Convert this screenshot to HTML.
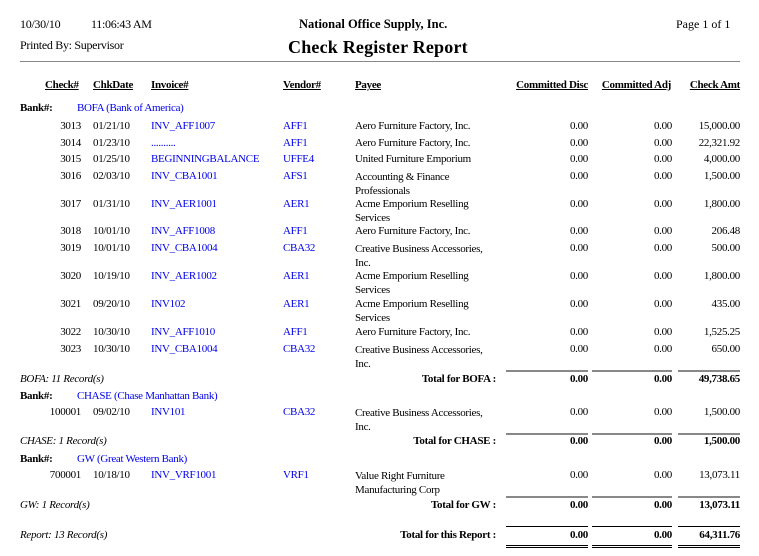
<!DOCTYPE html>
<html><head><meta charset="utf-8"><style>
body{margin:0;width:759px;height:556px;background:#fff;position:relative;overflow:hidden;font-family:"Liberation Serif",serif;font-size:11px;color:#000;letter-spacing:-0.3px}
div{position:absolute;white-space:nowrap;line-height:14px}
.b{color:#0000ee}
.r{text-align:right}
.h{font-weight:bold;text-decoration:underline}
.bd{font-weight:bold}
.i{font-style:italic}
.ln{height:2px;background:#888}
.lk{height:1px;background:#000}
</style></head><body>
<div style="left:20px;top:17px;font-size:12px">10/30/10</div>
<div style="left:91px;top:17px;font-size:12px">11:06:43 AM</div>
<div style="left:299px;top:17px;font-size:12.5px;letter-spacing:0" class="bd">National Office Supply, Inc.</div>
<div style="left:676px;top:17px;font-size:12px;letter-spacing:0">Page 1 of 1</div>
<div style="left:20px;top:38px;font-size:12px">Printed By: Supervisor</div>
<div style="left:288px;top:37px;font-size:18px;line-height:21px;letter-spacing:0.2px" class="bd">Check Register Report</div>
<div style="left:20px;top:61px;width:720px;height:1px;background:#888"></div>

<div class="h" style="left:45px;top:78px">Check#</div>
<div class="h" style="left:93px;top:78px">ChkDate</div>
<div class="h" style="left:151px;top:78px">Invoice#</div>
<div class="h" style="left:283px;top:78px">Vendor#</div>
<div class="h" style="left:355px;top:78px">Payee</div>
<div class="h r" style="right:171px;top:78px">Committed Disc</div>
<div class="h r" style="right:88px;top:78px">Committed Adj</div>
<div class="h r" style="right:19px;top:78px">Check Amt</div>

<div class="bd" style="left:20px;top:101px">Bank#:</div>
<div class="b" style="left:77px;top:101px">BOFA (Bank of America)</div>

<div class="r" style="right:678px;top:119px">3013</div><div style="left:93px;top:119px">01/21/10</div><div class="b" style="left:151px;top:119px">INV_AFF1007</div><div class="b" style="left:283px;top:119px">AFF1</div><div style="left:355px;top:119px">Aero Furniture Factory, Inc.</div><div class="r" style="right:171px;top:119px">0.00</div><div class="r" style="right:87px;top:119px">0.00</div><div class="r" style="right:19px;top:119px">15,000.00</div>
<div class="r" style="right:678px;top:136px">3014</div><div style="left:93px;top:136px">01/23/10</div><div class="b" style="left:151px;top:136px">..........</div><div class="b" style="left:283px;top:136px">AFF1</div><div style="left:355px;top:136px">Aero Furniture Factory, Inc.</div><div class="r" style="right:171px;top:136px">0.00</div><div class="r" style="right:87px;top:136px">0.00</div><div class="r" style="right:19px;top:136px">22,321.92</div>
<div class="r" style="right:678px;top:152px">3015</div><div style="left:93px;top:152px">01/25/10</div><div class="b" style="left:151px;top:152px">BEGINNINGBALANCE</div><div class="b" style="left:283px;top:152px">UFFE4</div><div style="left:355px;top:152px">United Furniture Emporium</div><div class="r" style="right:171px;top:152px">0.00</div><div class="r" style="right:87px;top:152px">0.00</div><div class="r" style="right:19px;top:152px">4,000.00</div>
<div class="r" style="right:678px;top:169px">3016</div><div style="left:93px;top:169px">02/03/10</div><div class="b" style="left:151px;top:169px">INV_CBA1001</div><div class="b" style="left:283px;top:169px">AFS1</div><div style="left:355px;top:170px">Accounting &amp; Finance<br>Professionals</div><div class="r" style="right:171px;top:169px">0.00</div><div class="r" style="right:87px;top:169px">0.00</div><div class="r" style="right:19px;top:169px">1,500.00</div>
<div class="r" style="right:678px;top:197px">3017</div><div style="left:93px;top:197px">01/31/10</div><div class="b" style="left:151px;top:197px">INV_AER1001</div><div class="b" style="left:283px;top:197px">AER1</div><div style="left:355px;top:197px">Acme Emporium Reselling<br>Services</div><div class="r" style="right:171px;top:197px">0.00</div><div class="r" style="right:87px;top:197px">0.00</div><div class="r" style="right:19px;top:197px">1,800.00</div>
<div class="r" style="right:678px;top:224px">3018</div><div style="left:93px;top:224px">10/01/10</div><div class="b" style="left:151px;top:224px">INV_AFF1008</div><div class="b" style="left:283px;top:224px">AFF1</div><div style="left:355px;top:224px">Aero Furniture Factory, Inc.</div><div class="r" style="right:171px;top:224px">0.00</div><div class="r" style="right:87px;top:224px">0.00</div><div class="r" style="right:19px;top:224px">206.48</div>
<div class="r" style="right:678px;top:241px">3019</div><div style="left:93px;top:241px">10/01/10</div><div class="b" style="left:151px;top:241px">INV_CBA1004</div><div class="b" style="left:283px;top:241px">CBA32</div><div style="left:355px;top:242px">Creative Business Accessories,<br>Inc.</div><div class="r" style="right:171px;top:241px">0.00</div><div class="r" style="right:87px;top:241px">0.00</div><div class="r" style="right:19px;top:241px">500.00</div>
<div class="r" style="right:678px;top:269px">3020</div><div style="left:93px;top:269px">10/19/10</div><div class="b" style="left:151px;top:269px">INV_AER1002</div><div class="b" style="left:283px;top:269px">AER1</div><div style="left:355px;top:269px">Acme Emporium Reselling<br>Services</div><div class="r" style="right:171px;top:269px">0.00</div><div class="r" style="right:87px;top:269px">0.00</div><div class="r" style="right:19px;top:269px">1,800.00</div>
<div class="r" style="right:678px;top:297px">3021</div><div style="left:93px;top:297px">09/20/10</div><div class="b" style="left:151px;top:297px">INV102</div><div class="b" style="left:283px;top:297px">AER1</div><div style="left:355px;top:297px">Acme Emporium Reselling<br>Services</div><div class="r" style="right:171px;top:297px">0.00</div><div class="r" style="right:87px;top:297px">0.00</div><div class="r" style="right:19px;top:297px">435.00</div>
<div class="r" style="right:678px;top:325px">3022</div><div style="left:93px;top:325px">10/30/10</div><div class="b" style="left:151px;top:325px">INV_AFF1010</div><div class="b" style="left:283px;top:325px">AFF1</div><div style="left:355px;top:325px">Aero Furniture Factory, Inc.</div><div class="r" style="right:171px;top:325px">0.00</div><div class="r" style="right:87px;top:325px">0.00</div><div class="r" style="right:19px;top:325px">1,525.25</div>
<div class="r" style="right:678px;top:342px">3023</div><div style="left:93px;top:342px">10/30/10</div><div class="b" style="left:151px;top:342px">INV_CBA1004</div><div class="b" style="left:283px;top:342px">CBA32</div><div style="left:355px;top:343px">Creative Business Accessories,<br>Inc.</div><div class="r" style="right:171px;top:342px">0.00</div><div class="r" style="right:87px;top:342px">0.00</div><div class="r" style="right:19px;top:342px">650.00</div>

<div class="ln" style="left:506px;top:370px;width:82px"></div><div class="ln" style="left:592px;top:370px;width:80px"></div><div class="ln" style="left:678px;top:370px;width:62px"></div>
<div class="i" style="left:20px;top:372px">BOFA: 11 Record(s)</div>
<div class="bd r" style="right:263px;top:372px">Total for BOFA :</div>
<div class="bd r" style="right:171px;top:372px">0.00</div><div class="bd r" style="right:87px;top:372px">0.00</div><div class="bd r" style="right:19px;top:372px">49,738.65</div>

<div class="bd" style="left:20px;top:389px">Bank#:</div>
<div class="b" style="left:77px;top:389px">CHASE (Chase Manhattan Bank)</div>
<div class="r" style="right:678px;top:405px">100001</div><div style="left:93px;top:405px">09/02/10</div><div class="b" style="left:151px;top:405px">INV101</div><div class="b" style="left:283px;top:405px">CBA32</div><div style="left:355px;top:406px">Creative Business Accessories,<br>Inc.</div><div class="r" style="right:171px;top:405px">0.00</div><div class="r" style="right:87px;top:405px">0.00</div><div class="r" style="right:19px;top:405px">1,500.00</div>
<div class="ln" style="left:506px;top:433px;width:82px"></div><div class="ln" style="left:592px;top:433px;width:80px"></div><div class="ln" style="left:678px;top:433px;width:62px"></div>
<div class="i" style="left:20px;top:434px">CHASE: 1 Record(s)</div>
<div class="bd r" style="right:263px;top:434px">Total for CHASE :</div>
<div class="bd r" style="right:171px;top:434px">0.00</div><div class="bd r" style="right:87px;top:434px">0.00</div><div class="bd r" style="right:19px;top:434px">1,500.00</div>

<div class="bd" style="left:20px;top:452px">Bank#:</div>
<div class="b" style="left:77px;top:452px">GW (Great Western Bank)</div>
<div class="r" style="right:678px;top:468px">700001</div><div style="left:93px;top:468px">10/18/10</div><div class="b" style="left:151px;top:468px">INV_VRF1001</div><div class="b" style="left:283px;top:468px">VRF1</div><div style="left:355px;top:469px">Value Right Furniture<br>Manufacturing Corp</div><div class="r" style="right:171px;top:468px">0.00</div><div class="r" style="right:87px;top:468px">0.00</div><div class="r" style="right:19px;top:468px">13,073.11</div>
<div class="ln" style="left:506px;top:496px;width:82px"></div><div class="ln" style="left:592px;top:496px;width:80px"></div><div class="ln" style="left:678px;top:496px;width:62px"></div>
<div class="i" style="left:20px;top:498px">GW: 1 Record(s)</div>
<div class="bd r" style="right:263px;top:498px">Total for GW :</div>
<div class="bd r" style="right:171px;top:498px">0.00</div><div class="bd r" style="right:87px;top:498px">0.00</div><div class="bd r" style="right:19px;top:498px">13,073.11</div>

<div class="lk" style="left:506px;top:526px;width:82px"></div><div class="lk" style="left:592px;top:526px;width:80px"></div><div class="lk" style="left:678px;top:526px;width:62px"></div>
<div class="i" style="left:20px;top:528px">Report: 13 Record(s)</div>
<div class="bd r" style="right:263px;top:528px">Total for this Report :</div>
<div class="bd r" style="right:171px;top:528px">0.00</div><div class="bd r" style="right:87px;top:528px">0.00</div><div class="bd r" style="right:19px;top:528px">64,311.76</div>
<div style="left:506px;top:545px;width:82px;height:1px;border-top:1px solid #000;border-bottom:1px solid #000"></div>
<div style="left:592px;top:545px;width:80px;height:1px;border-top:1px solid #000;border-bottom:1px solid #000"></div>
<div style="left:678px;top:545px;width:62px;height:1px;border-top:1px solid #000;border-bottom:1px solid #000"></div>
</body></html>
